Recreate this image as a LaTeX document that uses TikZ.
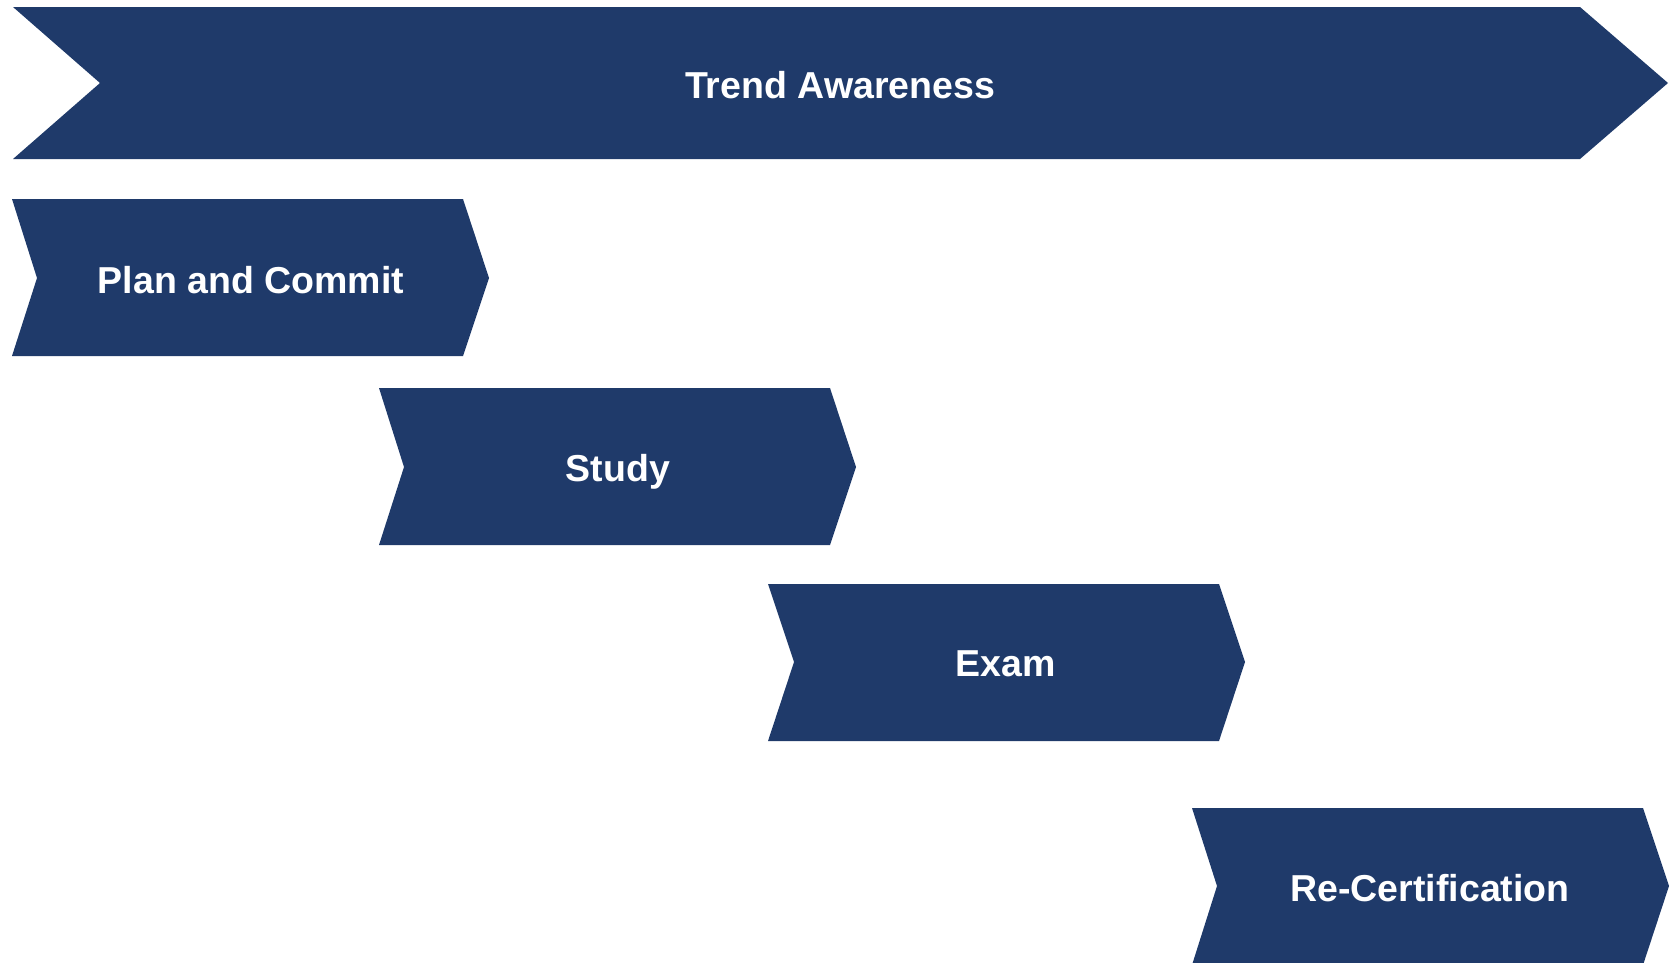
\documentclass[tikz,border=0pt]{standalone}
\usepackage{fontspec}
\setmainfont{Liberation Sans}
\definecolor{navy}{HTML}{1F3A6A}
\tikzset{
  chev/.style={fill=navy, draw=none},
  lbl/.style={text=white, font=\fontsize{37.5}{44}\selectfont\bfseries, inner sep=0pt, anchor=center}
}
\begin{document}
\begin{tikzpicture}[x=1pt,y=-1pt]
\useasboundingbox (0,0) rectangle (1670,962);
% Trend Awareness
\path[chev] (13,7) -- (1580,7) -- (1668,83) -- (1580,159) -- (13,159) -- (100,83) -- cycle;
\node[lbl] (trend) at (840,85) {Trend Awareness};
% Plan and Commit
\path[chev] (12,199) -- (463,199) -- (489,278) -- (463,356) -- (12,356) -- (37,278) -- cycle;
\node[lbl] (plan) at (251,280) {Plan and Commit};
% Study
\path[chev] (379,388) -- (830,388) -- (856,467) -- (830,545) -- (379,545) -- (404,467) -- cycle;
\node[lbl] (study) at (618,472) {Study};
% Exam
\path[chev] (768,584) -- (1219,584) -- (1245,662) -- (1219,741) -- (768,741) -- (794,662) -- cycle;
\node[lbl] (exam) at (1006,664) {Exam};
% Re-Certification
\path[chev] (1192,808) -- (1643,808) -- (1669,886) -- (1643,965) -- (1192,965) -- (1217,886) -- cycle;
\node[lbl] (recert) at (1430,888) {Re-Certification};
\end{tikzpicture}
\end{document}
